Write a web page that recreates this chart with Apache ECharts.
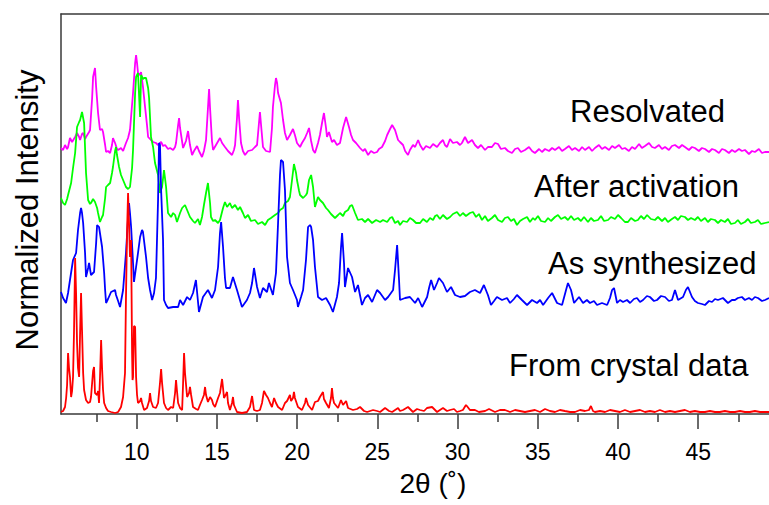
<!DOCTYPE html>
<html>
<head>
<meta charset="utf-8">
<script src="https://cdn.jsdelivr.net/npm/echarts@6/dist/echarts.min.js"></script>
<style>
  html, body { margin: 0; padding: 0; background: #fff; }
  #chart { width: 769px; height: 505px; }
</style>
</head>
<body>
<div id="chart"></div>
<script>
// Powder XRD patterns, stacked with vertical offsets. x = 2θ (deg), y = offset intensity.
const seriesNames = ['Resolvated', 'After activation', 'As synthesized', 'From crystal data'];
const seriesColors = ['#ff00ff', '#00ff00', '#0000ff', '#ff0000'];
const majorTicks = [10, 15, 20, 25, 30, 35, 40, 45];
const minorTicks = [7.5, 12.5, 17.5, 22.5, 27.5, 32.5, 37.5, 42.5, 47.5];
const xRange = [5.28, 49.41];

const resolvated = [
[5.28,265],[5.41,263],[5.53,268],[5.66,264],[5.72,266],[5.84,275],[5.97,271],[6.16,276],[6.28,280],[6.41,276],[6.47,273],[6.59,279],[6.66,280],[6.78,274],[6.84,276],[7.03,281],[7.09,283],[7.22,315],[7.28,336],[7.40,345],[7.47,326],[7.59,300],[7.71,283],[7.84,284],[7.90,281],[8.03,268],[8.09,261],[8.21,262],[8.34,260],[8.46,268],[8.52,275],[8.65,270],[8.77,264],[8.84,263],[9.02,265],[9.15,262],[9.33,270],[9.46,275],[9.58,283],[9.77,320],[9.90,350],[9.96,358],[10.02,350],[10.08,340],[10.21,338],[10.27,341],[10.39,326],[10.52,306],[10.64,288],[10.71,276],[10.89,273],[11.02,271],[11.20,270],[11.33,268],[11.52,271],[11.64,267],[11.77,268],[11.95,264],[12.08,265],[12.27,263],[12.39,266],[12.45,270],[12.58,288],[12.64,295],[12.70,285],[12.89,265],[13.07,272],[13.20,282],[13.32,268],[13.45,258],[13.57,262],[13.76,267],[13.88,262],[14.07,256],[14.19,262],[14.32,273],[14.44,305],[14.51,324],[14.57,305],[14.69,272],[14.76,263],[14.94,268],[15.19,275],[15.32,270],[15.50,266],[15.69,262],[15.94,258],[16.06,263],[16.13,268],[16.25,295],[16.31,313],[16.38,295],[16.50,270],[16.62,262],[16.75,258],[16.94,262],[17.19,263],[17.37,266],[17.50,268],[17.62,290],[17.68,301],[17.75,288],[17.87,266],[18.06,262],[18.31,261],[18.43,285],[18.49,306],[18.62,328],[18.68,335],[18.75,330],[18.81,320],[18.99,310],[19.12,293],[19.24,280],[19.37,273],[19.55,278],[19.74,284],[19.86,278],[19.99,270],[20.18,266],[20.30,270],[20.49,275],[20.62,280],[20.74,285],[20.87,272],[20.99,263],[21.11,260],[21.30,270],[21.42,278],[21.55,290],[21.67,300],[21.80,285],[21.86,276],[21.98,281],[22.17,271],[22.30,273],[22.48,268],[22.67,270],[22.86,285],[23.05,296],[23.23,286],[23.36,278],[23.48,273],[23.67,270],[23.92,265],[24.10,262],[24.23,264],[24.42,258],[24.60,262],[24.79,260],[24.98,261],[25.10,264],[25.29,266],[25.48,272],[25.61,278],[25.79,284],[25.92,288],[26.10,283],[26.29,273],[26.41,271],[26.60,268],[26.73,262],[26.91,258],[27.03,263],[27.22,268],[27.35,266],[27.54,273],[27.66,268],[27.85,263],[28.03,267],[28.28,265],[28.47,269],[28.72,266],[28.90,270],[29.09,273],[29.21,268],[29.34,266],[29.53,274],[29.71,270],[29.96,271],[30.15,268],[30.27,270],[30.46,276],[30.65,270],[30.90,273],[31.08,268],[31.27,265],[31.46,268],[31.71,263],[31.89,266],[32.14,266],[32.33,270],[32.52,269],[32.70,264],[32.95,265],[33.14,262],[33.39,260],[33.58,264],[33.76,265],[33.95,261],[34.20,263],[34.45,266],[34.64,262],[34.82,260],[35.08,264],[35.26,261],[35.45,264],[35.70,262],[35.89,265],[36.07,263],[36.32,266],[36.51,262],[36.69,264],[36.94,267],[37.13,263],[37.32,265],[37.57,262],[37.76,266],[37.94,263],[38.19,266],[38.38,262],[38.56,265],[38.81,268],[39.00,264],[39.19,266],[39.44,263],[39.63,267],[39.81,265],[40.06,268],[40.25,264],[40.43,265],[40.68,262],[40.87,266],[41.06,264],[41.31,269],[41.49,265],[41.68,267],[41.93,270],[42.12,266],[42.30,265],[42.55,268],[42.74,264],[42.93,266],[43.17,263],[43.36,267],[43.55,268],[43.80,265],[43.99,268],[44.17,266],[44.42,263],[44.61,266],[44.79,265],[45.04,262],[45.23,265],[45.42,264],[45.67,261],[45.86,264],[46.04,263],[46.29,260],[46.48,264],[46.66,263],[46.91,260],[47.10,263],[47.29,261],[47.54,264],[47.72,262],[47.91,263],[48.16,259],[48.35,262],[48.53,261],[48.78,264],[48.97,260],[49.16,261],[49.41,261]
];

const afterActivation = [
[5.28,215],[5.41,210],[5.53,208],[5.66,214],[5.72,218],[5.91,230],[6.03,245],[6.16,260],[6.28,286],[6.41,291],[6.47,293],[6.59,301],[6.72,290],[6.84,240],[6.97,213],[7.09,209],[7.15,210],[7.28,214],[7.40,211],[7.53,205],[7.59,200],[7.71,191],[7.84,196],[7.90,198],[8.03,215],[8.09,226],[8.21,228],[8.34,230],[8.46,240],[8.52,246],[8.65,262],[8.71,266],[8.77,258],[8.90,246],[9.02,238],[9.15,233],[9.33,226],[9.46,224],[9.58,226],[9.71,245],[9.77,263],[9.90,320],[9.96,336],[10.08,340],[10.21,296],[10.27,338],[10.39,334],[10.46,335],[10.58,335],[10.71,325],[10.77,315],[10.89,276],[11.02,266],[11.14,250],[11.33,238],[11.45,220],[11.58,226],[11.70,243],[11.83,226],[11.95,200],[12.14,196],[12.27,200],[12.39,198],[12.51,191],[12.70,200],[12.83,205],[13.01,208],[13.14,203],[13.32,196],[13.51,192],[13.63,190],[13.82,194],[13.94,188],[14.07,196],[14.19,208],[14.32,220],[14.44,230],[14.57,210],[14.63,196],[14.76,192],[14.88,193],[15.07,190],[15.19,193],[15.38,205],[15.50,211],[15.63,206],[15.81,210],[15.94,205],[16.13,208],[16.31,203],[16.44,206],[16.62,200],[16.75,195],[16.94,198],[17.12,192],[17.37,193],[17.56,189],[17.81,191],[18.00,188],[18.18,193],[18.37,195],[18.62,198],[18.81,200],[18.93,203],[19.12,205],[19.24,210],[19.43,212],[19.55,216],[19.68,233],[19.80,249],[19.93,240],[19.99,233],[20.12,222],[20.18,218],[20.37,215],[20.55,218],[20.62,220],[20.74,233],[20.87,238],[20.99,226],[21.11,206],[21.30,216],[21.42,213],[21.61,210],[21.80,205],[21.92,203],[22.11,199],[22.36,195],[22.55,198],[22.67,200],[22.86,197],[22.98,201],[23.17,203],[23.30,207],[23.42,208],[23.61,200],[23.79,193],[24.04,194],[24.23,191],[24.42,194],[24.67,190],[24.92,193],[25.17,191],[25.35,193],[25.61,191],[25.79,195],[25.92,196],[26.10,190],[26.29,192],[26.41,188],[26.60,192],[26.85,191],[27.03,195],[27.22,193],[27.41,190],[27.66,190],[27.85,194],[28.09,191],[28.28,195],[28.47,193],[28.60,197],[28.72,198],[28.90,194],[29.09,198],[29.34,194],[29.53,196],[29.71,199],[29.96,201],[30.15,197],[30.33,200],[30.52,197],[30.77,200],[30.96,201],[31.15,196],[31.33,199],[31.52,193],[31.71,197],[31.89,192],[32.14,195],[32.33,198],[32.52,193],[32.77,191],[32.95,195],[33.14,196],[33.33,192],[33.51,194],[33.70,188],[33.89,192],[34.08,194],[34.33,196],[34.51,191],[34.70,195],[34.82,193],[35.01,197],[35.20,192],[35.45,191],[35.64,195],[35.82,192],[36.07,196],[36.26,198],[36.45,194],[36.69,196],[36.88,193],[37.07,197],[37.26,193],[37.50,195],[37.69,192],[37.88,196],[38.13,191],[38.31,195],[38.50,192],[38.75,193],[38.94,197],[39.13,192],[39.38,193],[39.56,196],[39.81,194],[40.00,198],[40.19,195],[40.43,191],[40.62,191],[40.81,195],[41.06,192],[41.24,193],[41.43,197],[41.62,194],[41.81,198],[42.05,194],[42.30,193],[42.49,196],[42.74,192],[42.93,195],[43.11,191],[43.36,194],[43.55,196],[43.74,193],[43.92,197],[44.17,196],[44.36,193],[44.55,195],[44.79,193],[44.98,196],[45.17,192],[45.42,195],[45.60,191],[45.79,194],[46.04,193],[46.23,190],[46.42,193],[46.66,191],[46.85,194],[47.04,189],[47.29,190],[47.47,193],[47.66,189],[47.91,191],[48.10,194],[48.28,190],[48.53,191],[48.72,193],[48.91,189],[49.16,190],[49.41,191]
];

const asSynthesized = [
[5.28,121],[5.41,115],[5.59,110],[5.72,120],[5.84,133],[6.03,153],[6.22,160],[6.34,183],[6.47,200],[6.53,205],[6.59,200],[6.66,190],[6.78,160],[6.84,136],[6.97,145],[7.03,150],[7.15,138],[7.34,141],[7.47,170],[7.53,188],[7.65,186],[7.84,166],[7.97,140],[8.03,123],[8.09,110],[8.21,114],[8.40,121],[8.65,123],[8.71,118],[8.84,112],[8.96,106],[9.15,123],[9.33,160],[9.46,195],[9.52,210],[9.58,200],[9.65,186],[9.77,150],[9.83,131],[9.96,146],[10.08,160],[10.21,176],[10.33,183],[10.39,181],[10.58,156],[10.71,135],[10.83,123],[10.96,113],[11.08,120],[11.20,135],[11.33,213],[11.39,270],[11.45,268],[11.52,223],[11.64,173],[11.70,113],[11.83,108],[11.95,105],[12.27,106],[12.58,106],[12.70,113],[12.89,108],[13.14,116],[13.32,113],[13.51,120],[13.69,133],[13.88,101],[14.13,116],[14.44,123],[14.69,115],[14.88,123],[15.07,146],[15.19,180],[15.26,191],[15.38,166],[15.50,135],[15.57,125],[15.81,125],[16.00,136],[16.25,123],[16.56,106],[16.87,113],[17.06,120],[17.19,130],[17.31,145],[17.50,126],[17.68,115],[17.87,125],[18.12,121],[18.24,130],[18.49,118],[18.68,140],[18.81,190],[18.93,238],[18.99,253],[19.12,251],[19.24,223],[19.37,156],[19.55,130],[19.74,123],[19.99,113],[20.05,106],[20.24,116],[20.37,123],[20.55,153],[20.68,186],[20.80,188],[20.87,186],[20.99,173],[21.11,146],[21.30,116],[21.55,113],[21.80,115],[22.05,108],[22.23,101],[22.48,116],[22.61,130],[22.73,165],[22.80,180],[22.92,150],[22.98,126],[23.17,145],[23.42,136],[23.61,121],[23.79,128],[24.04,108],[24.23,115],[24.42,118],[24.67,111],[24.98,123],[25.17,120],[25.48,113],[25.67,116],[25.98,123],[26.10,143],[26.23,168],[26.35,133],[26.41,113],[26.73,115],[27.03,116],[27.35,110],[27.54,115],[27.79,106],[28.10,116],[28.22,125],[28.35,133],[28.53,123],[28.72,130],[28.84,135],[29.09,130],[29.34,121],[29.59,126],[29.84,118],[30.15,116],[30.46,117],[30.77,121],[31.08,123],[31.40,120],[31.64,128],[31.89,118],[32.08,108],[32.27,112],[32.45,116],[32.77,113],[33.08,115],[33.27,110],[33.51,114],[33.70,118],[34.01,113],[34.33,108],[34.64,113],[34.95,110],[35.14,113],[35.33,108],[35.64,115],[35.89,120],[36.20,110],[36.51,108],[36.76,123],[36.88,130],[37.07,123],[37.26,110],[37.57,116],[37.82,110],[38.06,113],[38.25,110],[38.50,112],[38.69,108],[39.00,110],[39.32,108],[39.50,115],[39.63,123],[39.75,125],[39.94,110],[40.12,113],[40.31,111],[40.56,113],[40.75,110],[40.99,114],[41.18,115],[41.37,111],[41.56,113],[41.80,117],[41.99,116],[42.24,112],[42.43,113],[42.68,117],[42.93,116],[43.17,112],[43.36,113],[43.55,123],[43.74,113],[44.05,116],[44.23,123],[44.36,126],[44.61,116],[44.79,112],[44.98,110],[45.23,109],[45.42,108],[45.67,112],[45.86,111],[46.04,114],[46.23,113],[46.54,115],[46.85,110],[47.10,113],[47.29,113],[47.47,115],[47.72,116],[47.91,113],[48.16,115],[48.35,113],[48.53,116],[48.72,115],[48.97,112],[49.16,113],[49.41,115]
];

const crystalData = [
[5.28,1],[5.41,2],[5.53,6],[5.60,15],[5.66,28],[5.72,60],[5.78,45],[5.84,36],[5.91,16],[5.97,22],[6.03,36],[6.09,80],[6.16,155],[6.22,120],[6.28,70],[6.34,45],[6.41,36],[6.47,80],[6.53,120],[6.59,83],[6.66,40],[6.72,23],[6.84,13],[6.97,10],[7.09,11],[7.15,16],[7.22,30],[7.28,42],[7.34,46],[7.40,20],[7.53,18],[7.59,22],[7.65,10],[7.71,35],[7.78,73],[7.84,45],[7.90,23],[7.97,10],[8.09,5],[8.21,2],[8.40,1],[8.65,0],[8.84,1],[9.02,6],[9.15,16],[9.27,40],[9.33,116],[9.40,183],[9.46,220],[9.52,190],[9.58,156],[9.65,173],[9.71,60],[9.74,33],[9.77,36],[9.83,87],[9.90,86],[9.96,36],[10.02,18],[10.08,10],[10.21,12],[10.27,15],[10.33,10],[10.46,3],[10.64,5],[10.77,12],[10.83,20],[10.89,12],[11.02,6],[11.20,5],[11.33,10],[11.45,30],[11.52,44],[11.58,30],[11.70,10],[11.83,5],[11.95,3],[12.14,6],[12.27,5],[12.39,20],[12.45,33],[12.51,22],[12.58,10],[12.70,5],[12.83,3],[12.89,30],[12.95,60],[13.01,40],[13.14,16],[13.26,20],[13.32,26],[13.39,18],[13.51,6],[13.70,4],[13.82,3],[13.94,8],[14.07,13],[14.19,18],[14.26,26],[14.32,18],[14.44,11],[14.57,16],[14.69,13],[14.76,9],[14.88,6],[15.07,15],[15.19,20],[15.32,34],[15.38,25],[15.44,15],[15.57,19],[15.63,21],[15.69,10],[15.81,3],[15.94,10],[16.00,16],[16.06,8],[16.25,1],[16.56,0],[16.87,1],[17.06,6],[17.19,17],[17.25,10],[17.31,3],[17.50,2],[17.68,3],[17.81,10],[17.93,22],[18.06,18],[18.18,15],[18.31,10],[18.43,6],[18.56,15],[18.68,10],[18.81,6],[19.06,3],[19.24,10],[19.37,12],[19.55,18],[19.62,12],[19.74,15],[19.80,21],[19.86,15],[20.05,6],[20.30,3],[20.49,10],[20.55,15],[20.68,8],[20.93,3],[21.11,11],[21.30,12],[21.42,16],[21.61,21],[21.67,14],[21.80,10],[21.98,5],[22.11,15],[22.17,25],[22.23,15],[22.30,10],[22.55,5],[22.73,13],[22.86,8],[23.05,12],[23.17,5],[23.48,3],[23.73,4],[23.92,6],[24.17,2],[24.36,1],[24.73,3],[24.98,2],[25.17,1],[25.48,5],[25.73,2],[25.92,1],[26.29,5],[26.41,2],[26.60,3],[26.91,6],[27.22,1],[27.47,4],[27.66,3],[27.91,2],[28.09,5],[28.41,6],[28.72,1],[28.90,3],[29.09,5],[29.34,2],[29.53,3],[29.78,4],[29.96,1],[30.15,2],[30.33,3],[30.52,8],[30.58,7],[30.77,3],[31.08,3],[31.33,1],[31.71,2],[31.96,4],[32.33,1],[32.64,3],[32.95,3],[33.27,1],[33.58,3],[33.89,2],[34.20,1],[34.51,2],[34.82,3],[35.14,1],[35.45,4],[35.76,2],[36.07,1],[36.38,3],[36.69,2],[37.01,1],[37.32,1],[37.63,3],[37.94,2],[38.19,3],[38.31,7],[38.44,2],[38.56,1],[38.88,2],[39.19,1],[39.50,3],[39.81,2],[40.12,1],[40.43,3],[40.75,1],[41.06,2],[41.37,3],[41.68,1],[41.99,2],[42.30,1],[42.61,3],[42.93,1],[43.24,2],[43.55,1],[43.86,2],[44.17,3],[44.48,1],[44.79,2],[45.11,1],[45.42,1],[45.73,2],[46.04,1],[46.35,1],[46.66,2],[46.98,1],[47.29,1],[47.60,2],[47.91,1],[48.22,1],[48.53,2],[48.85,1],[49.16,1],[49.41,1]
];

const seriesData = [resolvated, afterActivation, asSynthesized, crystalData];
// Label anchor points (left edge, vertical middle) for each pattern name.
const labelSpots = [[570, 111], [534, 186], [548, 263], [509, 365]];

const FONT = "'Liberation Sans', Arial, Helvetica, sans-serif";
const AXIS_COLOR = '#3a3a3a';

const chart = echarts.init(document.getElementById('chart'), null, { renderer: 'svg' });

const baseX = {
  type: 'value', min: xRange[0], max: xRange[1], gridIndex: 0,
  splitLine: { show: false }
};

chart.setOption({
  animation: false,
  backgroundColor: '#ffffff',
  grid: { left: 61, right: 0, top: 14, bottom: 91, containLabel: false },
  xAxis: [
    Object.assign({}, baseX, {
      position: 'bottom',
      axisLine: { show: true, onZero: false, lineStyle: { color: AXIS_COLOR, width: 1.5 } },
      axisTick: { show: true, inside: false, length: 15, customValues: majorTicks,
                  lineStyle: { color: AXIS_COLOR, width: 1.5 } },
      axisLabel: { show: true, customValues: majorTicks, margin: 26, fontSize: 23,
                   fontFamily: FONT, color: '#000' }
    }),
    Object.assign({}, baseX, {
      position: 'bottom',
      axisLine: { show: false, onZero: false },
      axisTick: { show: true, inside: false, length: 8, customValues: minorTicks,
                  lineStyle: { color: AXIS_COLOR, width: 1.5 } },
      axisLabel: { show: false }
    }),
    Object.assign({}, baseX, {
      position: 'top',
      axisLine: { show: true, onZero: false, lineStyle: { color: AXIS_COLOR, width: 1.5 } },
      axisTick: { show: false },
      axisLabel: { show: false }
    })
  ],
  yAxis: {
    type: 'value', min: -1, max: 399,
    axisLine: { show: true, onZero: false, lineStyle: { color: AXIS_COLOR, width: 1.5 } },
    axisTick: { show: false }, axisLabel: { show: false }, splitLine: { show: false }
  },
  series: seriesData.map((d, i) => ({
    name: seriesNames[i],
    type: 'line',
    xAxisIndex: 0,
    data: d,
    symbol: 'none',
    showSymbol: false,
    lineStyle: { color: seriesColors[i], width: 1.8 },
    z: 2 + i
  })),
  graphic: [
    ...seriesNames.map((name, i) => ({
      type: 'text', x: labelSpots[i][0], y: labelSpots[i][1], z: 10,
      style: { text: name, fill: '#000', fontSize: 31, fontFamily: FONT,
               align: 'left', verticalAlign: 'middle' }
    })),
    {
      type: 'text', x: 433, y: 483, z: 10,
      style: { text: '2θ (˚)', fill: '#000', fontSize: 28, fontFamily: FONT,
               align: 'center', verticalAlign: 'middle' }
    },
    {
      type: 'text', x: 27, y: 210, rotation: Math.PI / 2, z: 10,
      style: { text: 'Normalized Intensity', fill: '#000', fontSize: 31, fontFamily: FONT,
               align: 'center', verticalAlign: 'middle' }
    }
  ]
});
</script>
</body>
</html>
